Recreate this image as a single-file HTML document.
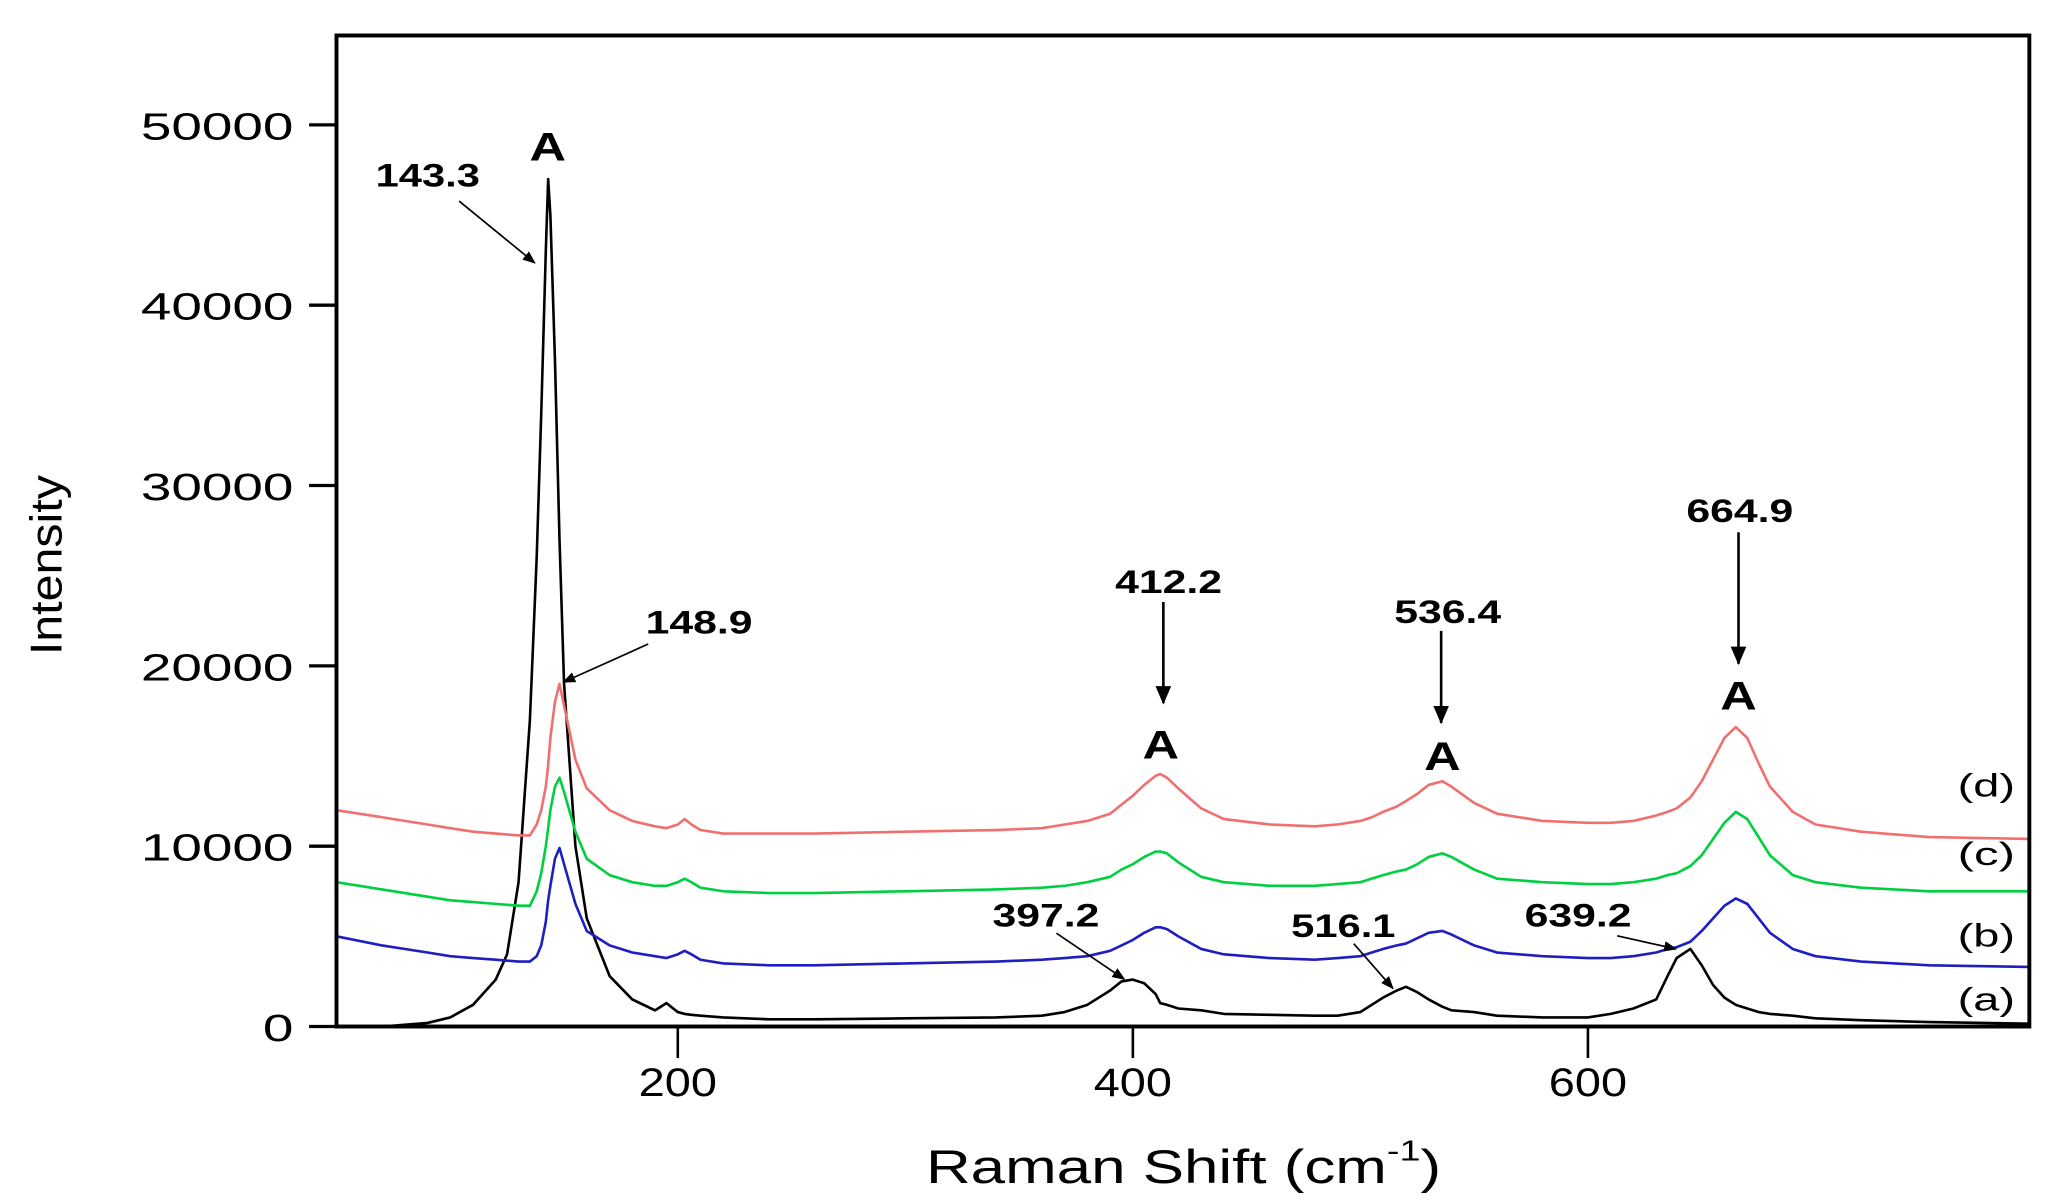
<!DOCTYPE html>
<html><head><meta charset="utf-8"><style>
html,body{margin:0;padding:0;background:#fff;}
svg{display:block;}
text{font-family:"Liberation Sans",Arial,sans-serif;}
</style></head><body>
<svg id="chart" width="2045" height="1200" viewBox="0 0 1568 913" preserveAspectRatio="none" xmlns="http://www.w3.org/2000/svg">
<defs><marker id="ah" markerWidth="10" markerHeight="8" refX="9" refY="4" orient="auto" markerUnits="userSpaceOnUse"><path d="M0,0 L10,4 L0,8 Z" fill="#000"/></marker>
<marker id="ah2" markerWidth="14" markerHeight="12" refX="13" refY="6" orient="auto" markerUnits="userSpaceOnUse"><path d="M0,0 L14,6 L0,12 Z" fill="#000"/></marker></defs>
<g id="series"></g>
<rect x="258" y="27" width="1298" height="754" fill="none" stroke="#000" stroke-width="3"/>
<g id="axes"></g>
<text x="710" y="900" font-size="36" textLength="395" lengthAdjust="spacingAndGlyphs">Raman Shift (cm<tspan font-size="22" dy="-17">-1</tspan><tspan dy="17">)</tspan></text>
<text transform="translate(47,430) rotate(-90)" font-size="34" text-anchor="middle" textLength="137" lengthAdjust="spacingAndGlyphs">Intensity</text>
<g id="annot" font-weight="bold"></g>
</svg>
<script>
const xs=[50,70,90,100,110,120,125,130,135,138,140,142,143,144,146,148,150,155,160,170,180,190,195,200,203,206,210,220,240,260,300,340,360,370,380,390,395,400,405,410,412,415,420,430,440,460,480,490,500,505,510,516,520,525,530,536,540,550,560,580,600,610,620,630,635,639,645,650,655,660,665,670,675,680,690,700,720,750,794];
const seriesA=[0,0,200,500,1200,2600,4000,8000,17000,26000,34000,43000,47000,45000,37000,27000,19000,10000,6000,2800,1500,900,1300,800,700,650,600,500,400,400,450,500,600,800,1200,2000,2500,2600,2400,1800,1300,1200,1000,900,700,650,600,600,800,1200,1600,2000,2200,1900,1500,1100,900,800,600,500,500,700,1000,1500,2800,3800,4300,3400,2300,1600,1200,1000,800,700,600,450,350,250,150,100];
const seriesB=[5000,4500,4100,3900,3800,3700,3650,3600,3600,3900,4500,5800,7000,7800,9300,9900,9000,6800,5300,4500,4100,3900,3800,4000,4200,4000,3700,3500,3400,3400,3500,3600,3700,3800,3900,4200,4500,4800,5200,5500,5500,5400,5000,4300,4000,3800,3700,3800,3900,4100,4300,4500,4600,4900,5200,5300,5100,4500,4100,3900,3800,3800,3900,4100,4300,4400,4700,5300,6000,6700,7100,6800,6000,5200,4300,3900,3600,3400,3300];
const seriesC=[8000,7600,7200,7000,6900,6800,6750,6700,6700,7500,8500,10000,11000,12000,13300,13800,13000,10800,9300,8400,8000,7800,7800,8000,8200,8000,7700,7500,7400,7400,7500,7600,7700,7800,8000,8300,8700,9000,9400,9700,9700,9600,9100,8300,8000,7800,7800,7900,8000,8200,8400,8600,8700,9000,9400,9600,9400,8700,8200,8000,7900,7900,8000,8200,8400,8500,8900,9500,10400,11300,11900,11500,10500,9500,8400,8000,7700,7500,7500];
const seriesD=[12000,11600,11200,11000,10800,10700,10650,10600,10600,11200,12000,13300,14500,16000,18000,19000,17800,14800,13200,12000,11400,11100,11000,11200,11500,11200,10900,10700,10700,10700,10800,10900,11000,11200,11400,11800,12300,12800,13400,13900,14000,13800,13200,12100,11500,11200,11100,11200,11400,11600,11900,12200,12500,12900,13400,13600,13300,12400,11800,11400,11300,11300,11400,11700,11900,12100,12700,13600,14800,16000,16600,16000,14600,13300,11900,11200,10800,10500,10400];
const yTicks=[0,10000,20000,30000,40000,50000];
const xTicks=[200,400,600];
const X0=258,X1=1556,XMIN=50,XMAX=794,Y0=781,YPER=137.2/10000;
function sx(v){return X0+(v-XMIN)/(XMAX-XMIN)*(X1-X0);}
function sy(v){return Y0-v*YPER;}
const NS='http://www.w3.org/2000/svg';
const g=document.getElementById('series');
[[seriesA,'#000','series-a'],[seriesB,'#1f1fbf','series-b'],[seriesC,'#00d040','series-c'],[seriesD,'#f07070','series-d']].forEach(([arr,col,name])=>{
 const p=document.createElementNS(NS,'path');
 p.setAttribute('d',arr.map((v,i)=>(i?'L':'M')+sx(xs[i]).toFixed(1)+','+sy(v).toFixed(1)).join(''));
 p.setAttribute('fill','none');p.setAttribute('stroke',col);p.setAttribute('stroke-width','2');p.setAttribute('stroke-linejoin','round');
 
 
 g.appendChild(p);
});
const ax=document.getElementById('axes');
yTicks.forEach(t=>{
 const l=document.createElementNS(NS,'line');
 l.setAttribute('x1',237);l.setAttribute('x2',258);l.setAttribute('y1',sy(t));l.setAttribute('y2',sy(t));l.setAttribute('stroke','#000');l.setAttribute('stroke-width','2.5');
 
 
 ax.appendChild(l);
 const tx=document.createElementNS(NS,'text');
 const s=String(t);
 const w=s.length*23.4;
 tx.setAttribute('x',225-w);tx.setAttribute('y',sy(t)+11);tx.setAttribute('font-size','29');
 tx.setAttribute('textLength',w);tx.setAttribute('lengthAdjust','spacingAndGlyphs');
 tx.textContent=s;
 
 
 ax.appendChild(tx);
});
xTicks.forEach(t=>{
 const l=document.createElementNS(NS,'line');
 l.setAttribute('x1',sx(t));l.setAttribute('x2',sx(t));l.setAttribute('y1',781);l.setAttribute('y2',805);l.setAttribute('stroke','#000');l.setAttribute('stroke-width','2');
 
 
 ax.appendChild(l);
 const tx=document.createElementNS(NS,'text');
 tx.setAttribute('x',sx(t)-30);tx.setAttribute('y',834);tx.setAttribute('font-size','30');
 tx.setAttribute('textLength',60);tx.setAttribute('lengthAdjust','spacingAndGlyphs');
 tx.textContent=t;
 
 
 ax.appendChild(tx);
});
const an=document.getElementById('annot');
const labels=[['A',420,122,30,28,'peak-a-143'],['A',890,577,30,28,'peak-a-412'],['A',1106,586,30,28,'peak-a-536'],['A',1333,540,30,28,'peak-a-665'],
['143.3',328,142,25,80,'label-143'],['148.9',536,482,25,82,'label-148'],['412.2',896,451,25,82,'label-412'],['536.4',1110,474,25,82,'label-536'],['664.9',1334,397,25,82,'label-665'],
['397.2',802,705,25,82,'label-397'],['516.1',1030,713,25,80,'label-516'],['639.2',1210,705,25,82,'label-639']];
labels.forEach(([s,x,y,fs,w,n])=>{
 const t=document.createElementNS(NS,'text');
 t.setAttribute('x',x-w/2);t.setAttribute('y',y);t.setAttribute('font-size',fs);
 t.setAttribute('textLength',w);t.setAttribute('lengthAdjust','spacingAndGlyphs');
 t.textContent=s;
 
 
 an.appendChild(t);
});
const arrows=[[352,153,410,200,'ah'],[497,490,432,519,'ah'],[892,458,892,535,'ah2'],[1105,480,1105,550,'ah2'],[1333,405,1333,505,'ah2'],[810,710,862,745,'ah'],[1038,718,1068,752,'ah'],[1240,712,1285,722,'ah']];
arrows.forEach(([x1,y1,x2,y2,m])=>{
 const l=document.createElementNS(NS,'line');
 l.setAttribute('x1',x1);l.setAttribute('y1',y1);l.setAttribute('x2',x2);l.setAttribute('y2',y2);l.setAttribute('stroke','#000');l.setAttribute('stroke-width',m==='ah2'?'2':'1.3');l.setAttribute('marker-end','url(#'+m+')');
 
 
 an.appendChild(l);
});
[['(d)',606],['(c)',658],['(b)',720],['(a)',769]].forEach(([s,y])=>{
 const t=document.createElementNS(NS,'text');
 t.setAttribute('x',1501);t.setAttribute('y',y);t.setAttribute('font-size','25');t.setAttribute('font-weight','normal');
 t.setAttribute('textLength',44);t.setAttribute('lengthAdjust','spacingAndGlyphs');
 t.textContent=s;
 
 
 an.appendChild(t);
});
</script>
</body></html>
